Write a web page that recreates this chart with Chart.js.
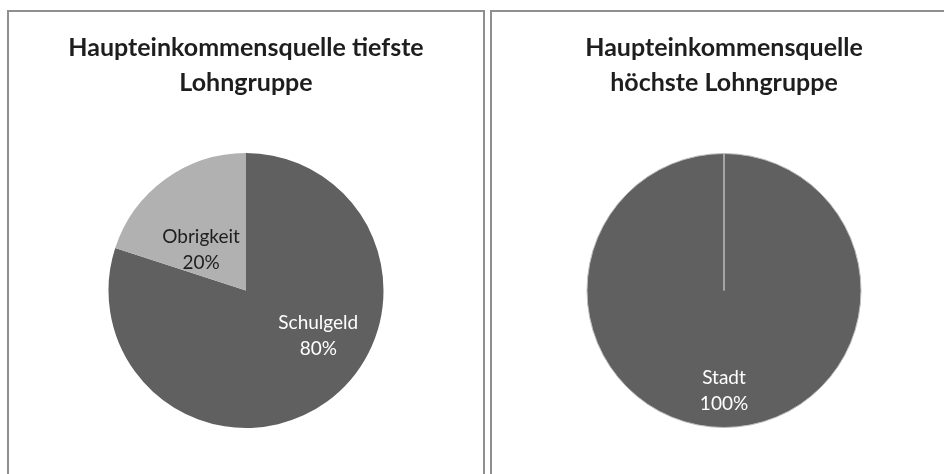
<!DOCTYPE html>
<html>
<head>
<meta charset="utf-8">
<script src="https://cdn.jsdelivr.net/npm/chart.js@4"></script>
<style>
    body { margin: 0; background: #fff; overflow: hidden; }
    .panel {
        position: absolute;
        top: 10px;
        height: 480px;
        border: 2px solid #8f8f8f;
        box-sizing: border-box;
        background: #fff;
    }
    .panel .box { position: absolute; left: 0; top: 0; right: 0; height: 462px; }
</style>
</head>
<body>

<div class="panel" style="left: 7px; width: 478px;">
    <div class="box"><canvas id="lowChart"></canvas></div>
</div>

<div class="panel" style="left: 490px; width: 468px;">
    <div class="box"><canvas id="highChart"></canvas></div>
</div>

<script>

// ==========================================
// Data
// ==========================================

const lowTitle = ["Haupteinkommensquelle tiefste", "Lohngruppe"];
const lowLabels = ["Schulgeld", "Obrigkeit"];
const lowValues = [80, 20];
const lowColors = ["#606060", "#b1b1b1"];
const lowTextColors = ["#ffffff", "#1e1e1e"];

const highTitle = ["Haupteinkommensquelle", "höchste Lohngruppe"];
const highLabels = ["Stadt"];
const highValues = [100];
const highColors = ["#606060"];
const highTextColors = ["#ffffff"];


// ==========================================
// Label plugin (name + percent inside slice)
// ==========================================

const sliceLabels = {

    id: "sliceLabels",

    afterDatasetsDraw(chart, args, opts) {

        const ctx = chart.ctx;
        const data = chart.data.datasets[0].data;
        const total = data.reduce((a, b) => a + b, 0);
        const meta = chart.getDatasetMeta(0);

        ctx.save();
        ctx.font = "19px Lato";
        ctx.textAlign = "center";
        ctx.textBaseline = "middle";

        meta.data.forEach((arc, i) => {

            const p = arc.getProps(["x", "y", "startAngle", "endAngle", "outerRadius"], true);
            const shift = (opts.shift[i] || 0) * Math.PI / 180;
            const mid = (p.startAngle + p.endAngle) / 2 + shift;
            const r = p.outerRadius * opts.dist[i];

            const x = p.x + Math.cos(mid) * r;
            const y = p.y + Math.sin(mid) * r;

            const pct = Math.round(data[i] / total * 100) + "%";

            ctx.fillStyle = opts.colors[i];
            ctx.fillText(chart.data.labels[i], x, y - 13);
            ctx.fillText(pct, x, y + 13);

        });

        ctx.restore();

    }

};


// ==========================================
// Pie builder
// ==========================================

function renderPie(id, title, labels, values, colors, textColors, border, shift, dist) {

    const ctx = document.getElementById(id).getContext("2d");

    return new Chart(ctx, {

        type: "pie",

        data: {
            labels: labels,
            datasets: [{
                data: values,
                backgroundColor: colors,
                borderColor: border,
                borderWidth: border ? 1 : 0
            }]
        },

        options: {

            responsive: true,
            maintainAspectRatio: false,
            animation: false,

            layout: {
                padding: { top: 0, bottom: 46, left: 0, right: 0 }
            },

            plugins: {

                legend: { display: false },
                tooltip: { enabled: false },

                title: {
                    display: true,
                    text: title,
                    color: "#1e1e1e",
                    font: { family: "Lato", size: 25, weight: "bold", lineHeight: 1.4 },
                    padding: { top: 18.5, bottom: 52.5 }
                },

                sliceLabels: {
                    colors: textColors,
                    shift: shift,
                    dist: dist
                }

            }

        },

        plugins: [sliceLabels]

    });

}

renderPie("lowChart", lowTitle, lowLabels, lowValues, lowColors, lowTextColors, null, [-22, -12], [0.62, 0.44]);

renderPie("highChart", highTitle, highLabels, highValues, highColors, highTextColors, "#bdbdbd", [0], [0.73]);

</script>
</body>
</html>
